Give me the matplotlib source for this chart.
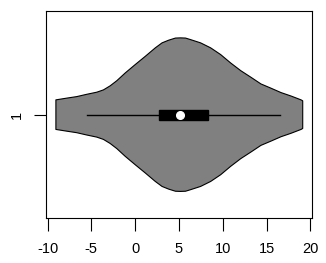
import numpy as np
import matplotlib
matplotlib.use("Agg")
import matplotlib.pyplot as plt

# violin outline: x positions and half-widths (axis units)
profile_x = [-9.05, -7.82, -6.67, -5.53, -4.38, -3.62, -2.86, -2.09, -1.14, 0.01,
             1.16, 2.30, 3.07, 3.83, 4.60, 5.17, 5.75, 6.32, 7.47, 8.62,
             9.76, 10.91, 12.06, 13.21, 14.36, 15.50, 16.65, 17.80, 18.94, 19.13]
profile_hw = [0.077, 0.086, 0.094, 0.106, 0.117, 0.129, 0.150, 0.177, 0.217, 0.261,
              0.304, 0.348, 0.374, 0.388, 0.399, 0.400, 0.399, 0.391, 0.374, 0.348,
              0.313, 0.269, 0.229, 0.195, 0.160, 0.138, 0.115, 0.097, 0.077, 0.072]
whisker_lo, q1, median, q3, whisker_hi = -5.53, 2.74, 5.07, 8.32, 16.5
position = 1
xticks = [-10, -5, 0, 5, 10, 15, 20]

plt.rcParams['font.family'] = ['Liberation Sans', 'DejaVu Sans']
fig = plt.figure(figsize=(3.26, 2.63), dpi=100)
ax = fig.add_axes([46/326, 1-218.3/263, (312-46)/326, (218.3-11)/263])

xs = np.array(profile_x)
ws = np.array(profile_hw)
poly_x = np.concatenate([xs, xs[::-1]])
poly_y = np.concatenate([position + ws, position - ws[::-1]])
ax.fill(poly_x, poly_y, facecolor='#808080', edgecolor='black', linewidth=0.8,
        joinstyle='round', zorder=1)

ax.plot([whisker_lo, whisker_hi], [position, position], color='black', linewidth=1.0, zorder=2)
ax.add_patch(plt.Rectangle((q1, position - 0.026), q3 - q1, 0.052,
                           facecolor='black', edgecolor='black', zorder=3))
ax.plot([median], [position], marker='o', markersize=5.5, color='white',
        markeredgecolor='white', zorder=4)

ax.set_xlim(-10.18, 20.19)
ax.set_ylim(0.46, 1.54)
ax.set_xticks(xticks)
ax.set_xticklabels([str(t) for t in xticks])
ax.set_yticks([position])
ax.set_yticklabels(['1'], rotation=90, va='center')
ax.tick_params(axis='both', direction='out', length=9, width=0.8, labelsize=10.5, colors='black')
ax.tick_params(axis='x', pad=8)
ax.tick_params(axis='y', pad=7)
for s in ax.spines.values():
    s.set_linewidth(0.8)
    s.set_color('black')

fig.savefig('out.png', dpi=100)
